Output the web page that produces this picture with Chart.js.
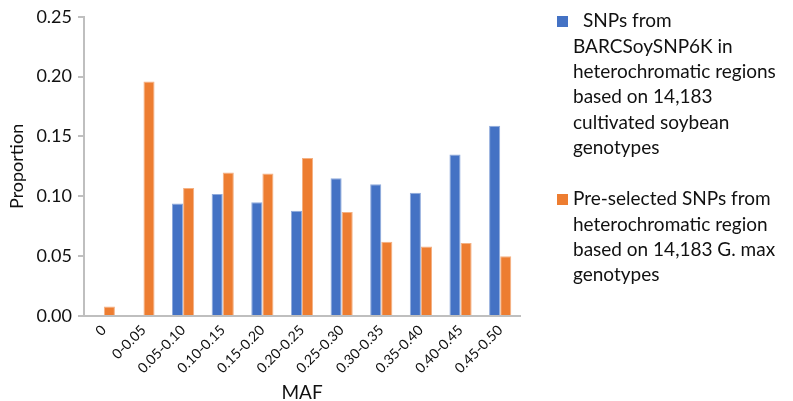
<!DOCTYPE html>
<html>
<head>
<meta charset="utf-8">
<script src="https://cdn.jsdelivr.net/npm/chart.js@4/dist/chart.umd.min.js"></script>
<style>
  html, body { margin: 0; padding: 0; background: #fff; }
  #wrap { width: 793px; height: 401px; position: relative; }
</style>
</head>
<body>
<div id="wrap"><canvas id="chart" width="793" height="401"></canvas></div>
<script>
/* ---------- Data ---------- */
const categories = ["0", "0-0.05", "0.05-0.10", "0.10-0.15", "0.15-0.20", "0.20-0.25",
                    "0.25-0.30", "0.30-0.35", "0.35-0.40", "0.40-0.45", "0.45-0.50"];
const barcValues = [0, 0, 0.094, 0.102, 0.095, 0.088, 0.115, 0.110, 0.103, 0.135, 0.159];
const preValues  = [0.008, 0.196, 0.107, 0.120, 0.119, 0.132, 0.087, 0.062, 0.058, 0.061, 0.050];
const yTicks = [0, 0.05, 0.10, 0.15, 0.20, 0.25];

const barcLines = ["SNPs from", "BARCSoySNP6K in", "heterochromatic regions",
                   "based on 14,183", "cultivated soybean", "genotypes"];
const preLines = ["Pre-selected SNPs from", "heterochromatic region",
                  "based on 14,183 G. max", "genotypes"];

const BLUE = "#4472C4";
const ORANGE = "#ED7D31";
const AXIS = "#BFBFBF";
const FONT = "Lato, 'Open Sans', sans-serif";

/* ---------- Legend drawn at the right ---------- */
const sideLegend = {
  id: "sideLegend",
  afterDraw(chart) {
    const ctx = chart.ctx;
    ctx.save();
    ctx.font = `19px ${FONT}`;
    ctx.textBaseline = "middle";
    const entries = [
      { color: BLUE, lines: barcLines, y: 21, firstX: 583 },
      { color: ORANGE, lines: preLines, y: 199, firstX: 573 }
    ];
    entries.forEach(e => {
      ctx.fillStyle = e.color;
      ctx.fillRect(557, e.y - 5, 11, 11);
      ctx.fillStyle = "#111";
      e.lines.forEach((t, i) => {
        ctx.fillText(t, i === 0 ? e.firstX : 573, e.y + i * 25.4);
      });
    });
    ctx.restore();
  }
};

/* ---------- Chart ---------- */
new Chart(document.getElementById("chart"), {
  type: "bar",
  data: {
    labels: categories,
    datasets: [
      { label: barcLines.join(" "), data: barcValues, backgroundColor: BLUE,
        borderColor: "#8FAADC", borderWidth: { top: 1, left: 1, right: 1, bottom: 0 } },
      { label: preLines.join(" "), data: preValues, backgroundColor: ORANGE,
        borderColor: "#F4B183", borderWidth: { top: 1, left: 1, right: 1, bottom: 0 } }
    ]
  },
  options: {
    responsive: false,
    animation: false,
    layout: { padding: { left: 0, top: 15, right: 273, bottom: 0 } },
    datasets: { bar: { categoryPercentage: 0.56, barPercentage: 1.0 } },
    plugins: { legend: { display: false }, tooltip: { enabled: false } },
    scales: {
      x: {
        grid: { display: false, drawTicks: false },
        border: { color: AXIS, width: 2 },
        ticks: { color: "#111", font: { family: FONT, size: 14 }, maxRotation: 45, minRotation: 45, padding: 6 },
        title: { display: true, text: "MAF", color: "#111", font: { family: FONT, size: 19 }, padding: { top: 0, bottom: -3 } },
        afterFit: (s) => { s.height = 85; }
      },
      y: {
        min: 0, max: 0.25,
        afterBuildTicks: (s) => { s.ticks = yTicks.map(v => ({ value: v })); },
        grid: { drawOnChartArea: false, drawTicks: true, tickLength: 6, color: AXIS, lineWidth: 2 },
        border: { color: AXIS, width: 2 },
        ticks: { color: "#111", font: { family: FONT, size: 18 }, padding: 6,
                 callback: (v) => Number(v).toFixed(2) },
        title: { display: true, text: "Proportion", color: "#111", font: { family: FONT, size: 18 }, padding: { top: 6, bottom: 4 } },
        afterFit: (s) => { s.width = 84; }
      }
    }
  },
  plugins: [sideLegend]
});
</script>
</body>
</html>
